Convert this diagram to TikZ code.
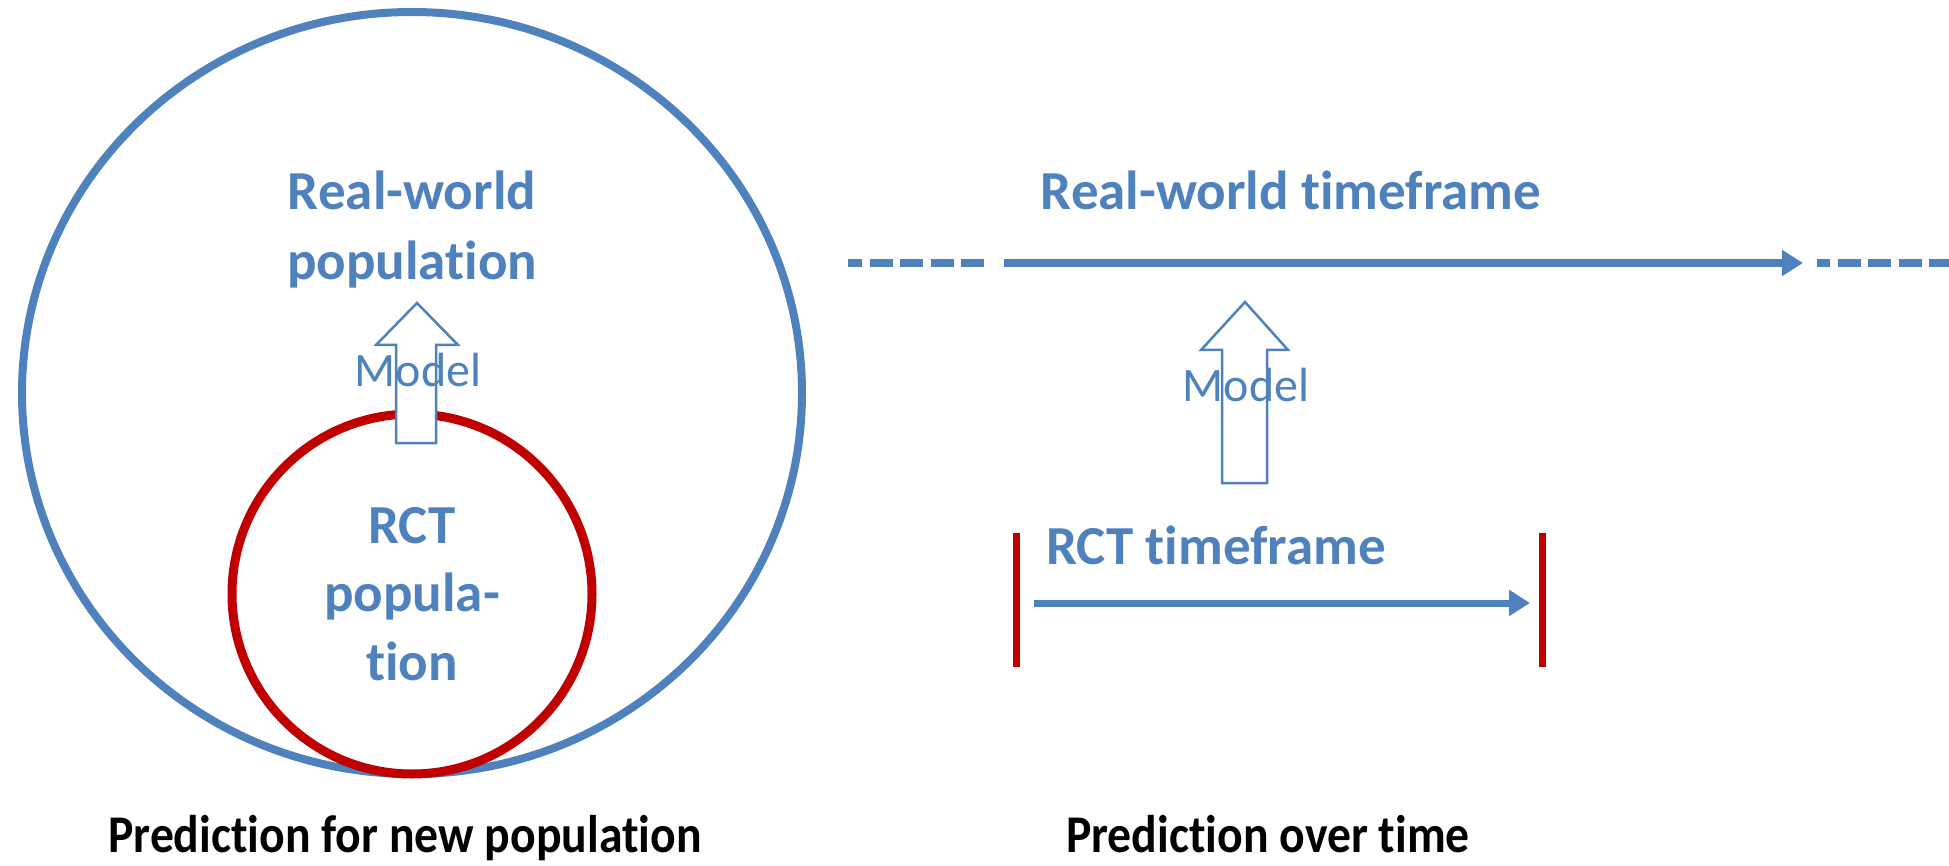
\documentclass[tikz,border=0pt]{standalone}
\usepackage{fontspec}
\setmainfont{Carlito}[Ligatures={NoCommon}]
\usetikzlibrary{arrows.meta}
\definecolor{oblue}{HTML}{4F81BD}
\definecolor{ored}{HTML}{C00000}
\tikzset{
  bluetext/.style={text=oblue, font=\bfseries\fontsize{55}{68}\selectfont, inner sep=0pt, anchor=base, align=center},
  modeltext/.style={text=oblue, font=\fontsize{48}{58}\selectfont, inner sep=0pt, anchor=base},
  captext/.style={text=black, font=\bfseries\fontsize{53}{64}\selectfont, inner sep=0pt, anchor=base},
  blockarrow/.style={draw=oblue, fill=white, line width=2.5pt, line join=miter},
  timeline/.style={draw=oblue, line width=8pt},
  dashline/.style={draw=oblue, line width=8pt, dash pattern=on 23pt off 7.5pt},
  redbar/.style={draw=ored, line width=7pt},
  tip/.style={-{Triangle[length=21pt,width=25pt]}}
}
\begin{document}
\begin{tikzpicture}[x=1pt,y=-1pt]
\useasboundingbox (0,0) rectangle (1949,866);
% left part
\draw[oblue, line width=8pt] (412,393) ellipse[x radius=390, y radius=381];
\draw[ored, line width=9pt] (412,594) circle[radius=180];
\draw[blockarrow] (436,443) -- (436,345) -- (458,345) -- (417,303) -- (376,345) -- (396,345) -- (396,443) -- cycle;
\node[bluetext] (rw1) at (412,210) {Real-world};
\node[bluetext] (rw2) at (412,280) {population};
\node[modeltext] (m1) at (418,387) {Model};
\node[bluetext] (r1) at (412,543) {RCT};
\node[bluetext] (r2) at (412,611) {popula-};
\node[bluetext] (r3) at (412,680) {tion};
\node[captext] (c1) at (405,852) {\scalebox{0.9}[1]{Prediction for new population}};
% right part
\coordinate (d1a) at (848,263);
\coordinate (d1b) at (986,263);
\coordinate (ta) at (1004,263);
\coordinate (tb) at (1803,263);
\coordinate (d2a) at (1817,263);
\coordinate (d2b) at (1949,263);
\draw[dashline, dash phase=9pt] (d1a) -- (d1b);
\draw[timeline, tip] (ta) -- (tb);
\draw[dashline, dash phase=10pt] (d2a) -- (d2b);
\node[bluetext] (rwt) at (1291,210) {Real-world timeframe};
\draw[blockarrow] (1267,483) -- (1267,350) -- (1288,350) -- (1245,302) -- (1201,350) -- (1222,350) -- (1222,483) -- cycle;
\node[modeltext] (m2) at (1246,402) {Model};
\node[bluetext] (rct) at (1216,564) {RCT timeframe};
\coordinate (b1a) at (1016,533);
\coordinate (b1b) at (1016,667);
\coordinate (b2a) at (1542,533);
\coordinate (b2b) at (1542,667);
\draw[redbar] (b1a) -- (b1b);
\draw[redbar] (b2a) -- (b2b);
\coordinate (sa) at (1034,603);
\coordinate (sb) at (1530,603);
\draw[timeline, line width=7pt, tip] (sa) -- (sb);
\node[captext] (c2) at (1268,852) {\scalebox{0.9}[1]{Prediction over time}};
\end{tikzpicture}
\end{document}
